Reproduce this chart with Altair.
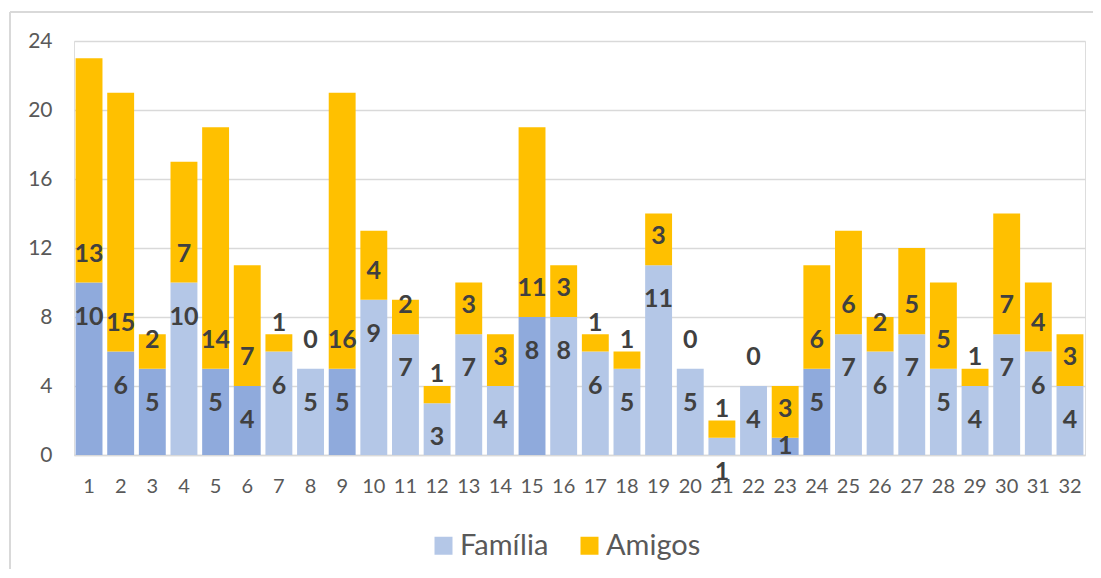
import altair as alt
import pandas as pd

dias = list(range(1, 33))
familia = [10, 6, 5, 10, 5, 4, 6, 5, 5, 9, 7, 3, 7, 4, 8, 8, 6, 5, 11, 5, 1, 4, 1, 5, 7, 6, 7, 5, 4, 7, 6, 4]
amigos = [13, 15, 2, 7, 14, 7, 1, 0, 16, 4, 2, 1, 3, 3, 11, 3, 1, 1, 3, 0, 1, 0, 3, 6, 6, 2, 5, 5, 1, 7, 4, 3]
destaque = [1, 2, 3, 5, 6, 9, 15, 23, 24]
rotulo_central = [23]

rows = []
for d, f, a in zip(dias, familia, amigos):
    cor_f = "Família (destaque)" if d in destaque else "Família"
    rows.append({"dia": str(d), "serie": "Família", "cor": cor_f, "valor": f, "y0": 0, "y1": f,
                 "central": d in rotulo_central})
    rows.append({"dia": str(d), "serie": "Amigos", "cor": "Amigos", "valor": a, "y0": f, "y1": f + a,
                 "central": False})
df = pd.DataFrame(rows)

W, H = 1011, 414
FONT = "Lato"
ordem = [str(d) for d in dias]

xenc = alt.X("dia:N", sort=ordem,
             scale=alt.Scale(paddingInner=0.15, paddingOuter=0.05),
             axis=alt.Axis(title=None, labelAngle=0, ticks=False, labelPadding=21,
                           labelFontSize=20, labelColor="#595959", labelFont=FONT,
                           domainColor="#D9D9D9", domainWidth=1.5))

yscale = alt.Scale(domain=[0, 24], nice=False)

bars = alt.Chart(df).mark_bar().encode(
    x=xenc,
    y=alt.Y("y1:Q", scale=yscale,
            axis=alt.Axis(title=None, values=list(range(0, 25, 2)),
                          labelExpr="datum.value % 4 === 0 ? datum.label : ''",
                          ticks=False, domain=False, labelPadding=22,
                          labelFontSize=21, labelColor="#595959", labelFont=FONT,
                          grid=True,
                          gridColor={"condition": {"test": "datum.value % 4 === 0", "value": "#D9D9D9"},
                                     "value": "#EFEFEF"},
                          gridWidth=1.5)),
    y2="y0:Q",
    color=alt.Color("cor:N",
                    scale=alt.Scale(domain=["Família", "Amigos", "Família (destaque)"],
                                    range=["#B4C7E7", "#FFC000", "#8FAADC"]),
                    legend=alt.Legend(title=None, values=["Família", "Amigos"],
                                      orient="none", legendX=355, legendY=490,
                                      direction="horizontal", symbolType="square",
                                      symbolSize=324, symbolStrokeWidth=0,
                                      labelFontSize=29, labelFont=FONT, labelColor="#595959",
                                      labelOffset=2, columnPadding=26, padding=0)),
)

txt = dict(fontSize=25, fontWeight="bold", font=FONT, color="#404040", baseline="middle")

lab_f = alt.Chart(df).transform_filter("datum.serie === 'Família' && !datum.central").mark_text(
    dy=34, **txt
).encode(x=alt.X("dia:N", sort=ordem), y=alt.Y("y1:Q", scale=yscale), text="valor:Q")

lab_c = alt.Chart(df).transform_filter("datum.serie === 'Família' && datum.central").transform_calculate(
    meio="(datum.y0 + datum.y1) / 2"
).mark_text(**txt).encode(x=alt.X("dia:N", sort=ordem), y=alt.Y("meio:Q", scale=yscale), text="valor:Q")

lab_a = alt.Chart(df).transform_filter("datum.serie === 'Amigos'").mark_text(
    dy=-29, **txt
).encode(x=alt.X("dia:N", sort=ordem), y=alt.Y("y0:Q", scale=yscale), text="valor:Q")

frame_top = alt.Chart(df).mark_rule(color="#D9D9D9", strokeWidth=1.5).encode(
    x=alt.value(-64), x2=alt.value(W + 20), y=alt.value(-29))
frame_left = alt.Chart(df).mark_rule(color="#D9D9D9", strokeWidth=1.5).encode(
    x=alt.value(-64), y=alt.value(-29), y2=alt.value(H + 120))

chart = alt.layer(frame_top, frame_left, bars, lab_f, lab_c, lab_a).properties(
    width=W, height=H,
    autosize=alt.AutoSizeParams(type="none"),
    padding={"left": 66, "top": 33, "right": 8, "bottom": 114},
).configure_view(stroke=None).configure(font=FONT)

chart.save("out.html", embed_options={"renderer": "svg", "actions": False})
